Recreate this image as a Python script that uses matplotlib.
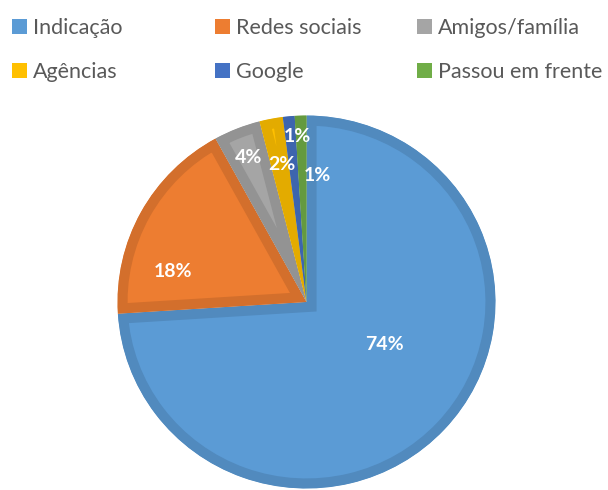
import matplotlib
matplotlib.use("Agg")
import matplotlib.pyplot as plt
import matplotlib.colors as mcolors
import numpy as np
from matplotlib.patches import Patch, Wedge

categories = ["Indicação", "Redes sociais", "Amigos/família", "Agências", "Google", "Passou em frente"]
values = [74, 18, 4, 2, 1, 1]
colors = ["#5B9BD5", "#ED7D31", "#A5A5A5", "#FFC000", "#4472C4", "#70AD47"]

# label placement (layout): radial fraction, angle in degrees
label_layout = [(0.47, -29.0), (0.725, 167.0), (0.83, 111.5), (0.75, 100.0), (0.89, 93.0), (0.68, 85.0)]


def darker(c, f=0.89):
    r, g, b = mcolors.to_rgb(c)
    return (r * f, g * f, b * f)


W, H = 608, 490
fig = plt.figure(figsize=(W / 100, H / 100), dpi=100)

cx, cy = 306.5, 302
rx, ry = 189, 186.5
lim = 1.05
ax = fig.add_axes([(cx - rx * lim) / W, (H - cy - ry * lim) / H, 2 * rx * lim / W, 2 * ry * lim / H])

wedges, texts, autotexts = ax.pie(
    values, colors=colors, startangle=90, counterclock=False,
    autopct=lambda p: f"{p:.0f}%",
    textprops=dict(color="white", fontsize=14, fontweight="bold", family="Lato"),
    wedgeprops=dict(linewidth=14.5, joinstyle="miter"),
)
for w, c in zip(wedges, colors):
    w.set_edgecolor(darker(c))
    clip = Wedge(w.center, w.r, w.theta1, w.theta2, transform=ax.transData)
    w.set_clip_path(clip)
    w.set_clip_on(True)

for t, (rf, ang) in zip(autotexts, label_layout):
    a = np.deg2rad(ang)
    t.set_position((rf * np.cos(a), rf * np.sin(a)))
    t.set_ha("center")
    t.set_va("center")

ax.set_xlim(-lim, lim)
ax.set_ylim(-lim, lim)
ax.set_aspect("auto")
ax.axis("off")

handles = [Patch(facecolor=c, edgecolor="none") for c in colors]
col_x = [12, 215, 417]
for i, x in enumerate(col_x):
    idx = [i, i + 3]
    fig.legend([handles[j] for j in idx], [categories[j] for j in idx],
               loc="upper left", bbox_to_anchor=(x / W, 1 - 18 / H),
               frameon=False, borderpad=0, borderaxespad=0,
               handlelength=0.7, handleheight=0.65, handletextpad=0.28,
               labelspacing=1.12,
               prop=dict(family="Lato", size=15.5), labelcolor="#595959")

fig.savefig("out.png", dpi=100)
